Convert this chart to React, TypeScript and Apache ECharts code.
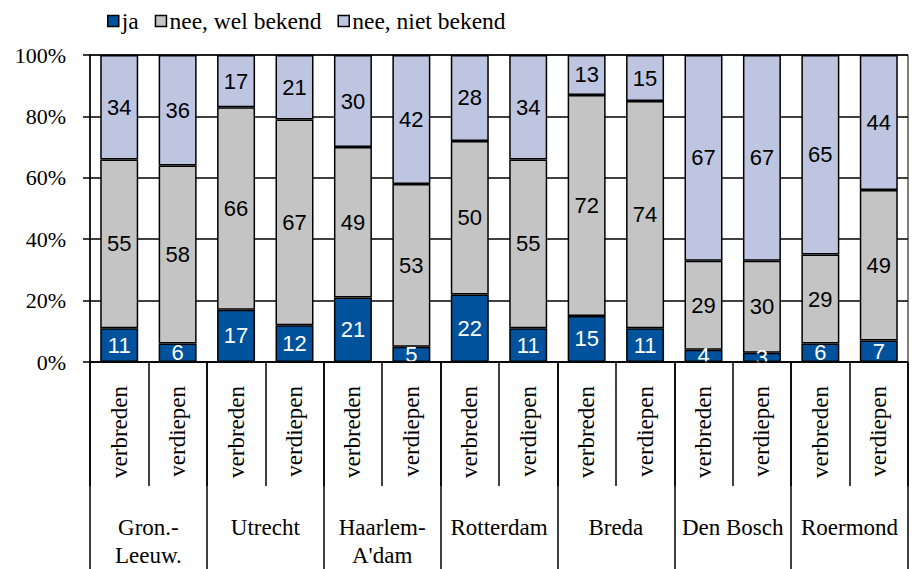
import React, { useEffect, useRef } from "react";
import * as echarts from "echarts";

const subCats = [
  "verbreden", "verdiepen", "verbreden", "verdiepen", "verbreden", "verdiepen", "verbreden",
  "verdiepen", "verbreden", "verdiepen", "verbreden", "verdiepen", "verbreden", "verdiepen",
];
const groups = ["Gron.-\nLeeuw.", "Utrecht", "Haarlem-\nA'dam", "Rotterdam", "Breda", "Den Bosch", "Roermond"];
const seriesNames = ["ja", "nee, wel bekend", "nee, niet bekend"];
const ja = [11, 6, 17, 12, 21, 5, 22, 11, 15, 11, 4, 3, 6, 7];
const weetWel = [55, 58, 66, 67, 49, 53, 50, 55, 72, 74, 29, 30, 29, 49];
const nietBekend = [34, 36, 17, 21, 30, 42, 28, 34, 13, 15, 67, 67, 65, 44];
const yTicks = [0, 20, 40, 60, 80, 100];

const colors = ["#00529C", "#C4C4C4", "#BDC5E1"];
const labelColors = ["#ffffff", "#000000", "#000000"];

export default function App() {
  const ref = useRef<HTMLDivElement>(null);
  useEffect(() => {
    if (!ref.current) return;
    const chart = echarts.init(ref.current, null, { renderer: "svg" });
    const values = [ja, weetWel, nietBekend];
    const serif = "'Liberation Serif', 'Times New Roman', serif";
    const sans = "'Liberation Sans', Arial, sans-serif";
    chart.setOption({
      animation: false,
      backgroundColor: "#ffffff",
      legend: {
        data: seriesNames,
        left: 102,
        top: 4,
        itemWidth: 11,
        itemHeight: 11,
        itemGap: 16,
        icon: "rect",
        textStyle: { fontFamily: serif, fontSize: 23.5, color: "#000", padding: [0, 0, 0, -2] },
        itemStyle: { borderColor: "#000", borderWidth: 1.5 },
      },
      grid: {
        left: 90,
        right: 9,
        top: 55,
        bottom: 205,
        show: true,
        borderColor: "#000",
        borderWidth: 1,
      },
      graphic: [
        {
          type: "rect",
          left: 90,
          bottom: 0,
          z: 5,
          shape: { width: 820, height: 204 },
          style: { fill: "#ffffff" },
        },
      ],
      xAxis: [
        {
          type: "category",
          data: subCats,
          position: "bottom",
          z: 10,
          axisLine: { show: true, lineStyle: { color: "#000", width: 1.5 } },
          axisTick: { show: true, interval: 0, length: 124, lineStyle: { color: "#000", width: 1.5 } },
          axisLabel: {
            interval: 0,
            rotate: 90,
            margin: 24,
            fontFamily: serif,
            fontSize: 23,
            color: "#000",
            padding: [0, 0, 6, 0],
          },
        },
        {
          type: "category",
          data: groups,
          position: "bottom",
          z: 10,
          axisLine: { show: false },
          axisTick: { show: true, interval: 0, length: 210, lineStyle: { color: "#000", width: 1.5 } },
          axisLabel: {
            interval: 0,
            margin: 151,
            fontFamily: serif,
            fontSize: 23,
            lineHeight: 28,
            color: "#000",
          },
        },
      ],
      yAxis: {
        type: "value",
        min: 0,
        max: 100,
        interval: 20,
        axisLine: { show: true, lineStyle: { color: "#000", width: 1.5 } },
        axisTick: { show: true, length: 7, lineStyle: { color: "#000", width: 1.5 } },
        splitLine: { show: true, lineStyle: { color: "#000", width: 1.5 } },
        axisLabel: {
          margin: 24,
          fontFamily: serif,
          fontSize: 22,
          color: "#000",
          formatter: (v: number) => (yTicks.includes(v) ? `${v}%` : ""),
        },
      },
      series: seriesNames.map((name, i) => ({
        name,
        type: "bar",
        stack: "total",
        xAxisIndex: 0,
        barWidth: "65%",
        data: values[i],
        itemStyle: { color: colors[i], borderColor: "#000", borderWidth: 1.5 },
        label: {
          show: true,
          position: "inside",
          fontFamily: sans,
          fontSize: 22,
          color: labelColors[i],
        },
      })),
    });
    return () => chart.dispose();
  }, []);
  return (
    <div
      ref={ref}
      style={{ position: "fixed", left: 0, top: 0, width: 917, height: 569, background: "#fff" }}
    />
  );
}
